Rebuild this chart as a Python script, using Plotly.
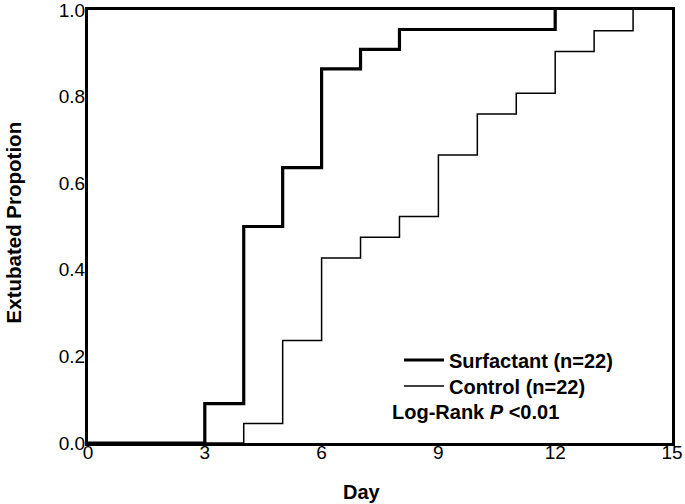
import plotly.graph_objects as go

# Data
surf_day = [0, 3, 4, 5, 6, 7, 8, 12]
surf_prop = [0.0, 0.091, 0.500, 0.636, 0.864, 0.909, 0.955, 1.0]

ctrl_day = [0, 4, 5, 6, 7, 8, 9, 10, 11, 12, 13, 14]
ctrl_prop = [0.0, 0.045, 0.237, 0.427, 0.475, 0.523, 0.665, 0.760, 0.808, 0.904, 0.952, 1.0]

x_ticks = [0, 3, 6, 9, 12, 15]
y_ticks = [0.0, 0.2, 0.4, 0.6, 0.8, 1.0]
y_tick_labels = ["0.0", "0.2", "0.4", "0.6", "0.8", "1.0"]

FONT = "Liberation Sans, Arial, Helvetica, sans-serif"
LEG_FONT = dict(size=20, family=FONT, color="black", weight="bold")

fig = go.Figure()
fig.add_trace(go.Scatter(
    x=surf_day, y=surf_prop, mode="lines", line_shape="hv",
    line=dict(color="black", width=3.2), name="Surfactant (n=22)",
    legend="legend"))
fig.add_trace(go.Scatter(
    x=ctrl_day, y=ctrl_prop, mode="lines", line_shape="hv",
    line=dict(color="black", width=1.5), name="Control (n=22)",
    legend="legend2"))

fig.update_layout(
    width=685, height=504,
    margin=dict(l=88, r=13, t=10, b=61, autoexpand=False),
    paper_bgcolor="white", plot_bgcolor="white",
    font=dict(family=FONT, color="black"),
    showlegend=True,
    legend=dict(
        x=0.5325, y=0.1917, xanchor="left", yanchor="middle",
        bgcolor="rgba(0,0,0,0)", borderwidth=0, font=LEG_FONT, itemwidth=40),
    legend2=dict(
        x=0.5325, y=0.1316, xanchor="left", yanchor="middle",
        bgcolor="rgba(0,0,0,0)", borderwidth=0, font=LEG_FONT, itemwidth=40),
    xaxis=dict(
        range=[0, 15], tickvals=x_ticks, ticktext=[str(v) for v in x_ticks],
        showgrid=False, zeroline=False, ticks="", automargin=False,
        showline=True, mirror=True, linecolor="black", linewidth=3,
        tickfont=dict(size=19, family=FONT, color="black"),
        ticklabeloverflow="allow", ticklabelstandoff=-10),
    yaxis=dict(
        range=[0, 1], tickvals=y_ticks, ticktext=y_tick_labels,
        showgrid=False, zeroline=False, ticks="", automargin=False,
        showline=True, mirror=True, linecolor="black", linewidth=3,
        tickfont=dict(size=19, family=FONT, color="black"),
        ticklabeloverflow="allow", ticklabelstandoff=-4),
    annotations=[
        dict(text="Day", xref="paper", yref="paper", x=0.469, y=-0.113,
             showarrow=False, xanchor="center", yanchor="middle",
             font=dict(size=20, family=FONT, color="black", weight="bold")),
        dict(text="Extubated Propotion", xref="paper", yref="paper",
             x=-0.128, y=0.51, textangle=-90, showarrow=False,
             xanchor="center", yanchor="middle",
             font=dict(size=20.5, family=FONT, color="black", weight="bold")),
        dict(text="Log-Rank <i>P</i> <0.01", xref="paper", yref="paper",
             x=0.5166, y=0.072, showarrow=False, xanchor="left", yanchor="middle",
             font=dict(size=20, family=FONT, color="black", weight="bold")),
    ],
)

fig.write_html(
    "out.html",
    config={"displayModeBar": False},
    post_script="document.body.style.margin='0';document.body.style.overflow='hidden';",
)
